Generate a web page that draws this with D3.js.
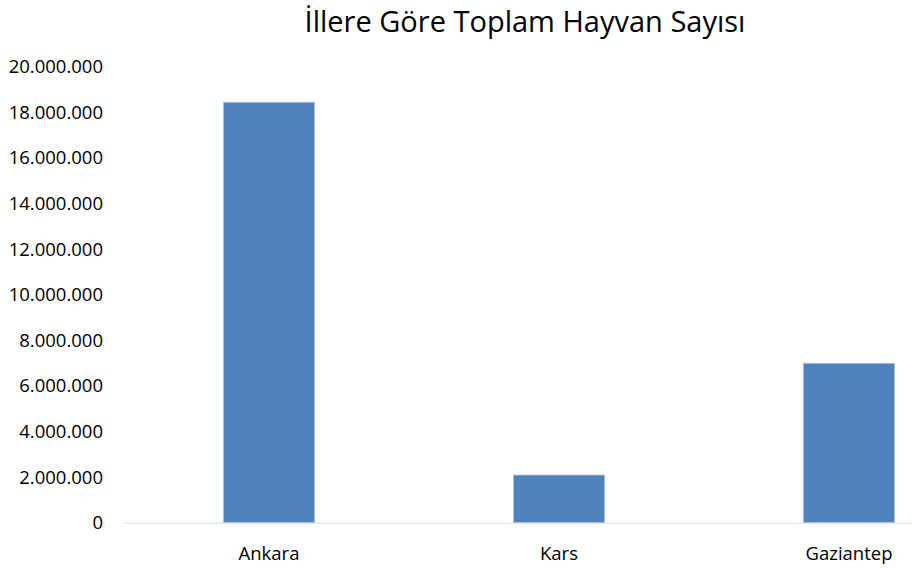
<!DOCTYPE html>
<html>
<head>
<meta charset="utf-8">
<script src="https://cdn.jsdelivr.net/npm/d3@7"></script>
<style>
  body { margin: 0; background: #fff; }
  text { font-family: "Open Sans", "Noto Sans", sans-serif; fill: #000; }
</style>
</head>
<body>
<svg width="912" height="568"></svg>
<script>
// chart data
var cities = ['Ankara', 'Kars', 'Gaziantep'];
var animals = [18440000, 2090000, 6990000];
var yTicks = [0, 2000000, 4000000, 6000000, 8000000, 10000000, 12000000, 14000000, 16000000, 18000000, 20000000];
var title = 'İllere Göre Toplam Hayvan Sayısı';

var svg = d3.select('svg');

var x = d3.scaleBand()
  .domain(cities)
  .range([124, 994])
  .paddingInner(0.686)
  .paddingOuter(0.343);

var y = d3.scaleLinear()
  .domain([0, 20000000])
  .range([522.7, 66.7]);

// dots as thousands separator
var fmt = function(v){
  return d3.format(',')(v).replace(/,/g, '.');
};

svg.append('text')
  .attr('x', 525)
  .attr('y', 32)
  .attr('text-anchor', 'middle')
  .style('font-size', '29px')
  .text(title);

svg.selectAll('.ylab').data(yTicks)
  .enter()
    .append('text')
    .attr('class', 'ylab')
    .attr('x', 103)
    .attr('y', function(d){ return y(d); })
    .attr('dy', '0.35em')
    .attr('text-anchor', 'end')
    .style('font-size', '18.5px')
    .text(fmt);

svg.selectAll('rect').data(animals)
  .enter()
    .append('rect')
    .attr('x', function(d, i){ return x(cities[i]); })
    .attr('y', function(d){ return y(d); })
    .attr('width', x.bandwidth())
    .attr('height', function(d){ return y(0) - y(d); })
    .attr('fill', '#4f81bd')
    .attr('stroke', '#a7bfde')
    .attr('stroke-width', 0.8);

svg.append('line')
  .attr('x1', 124)
  .attr('x2', 994)
  .attr('y1', y(0) + 0.5)
  .attr('y2', y(0) + 0.5)
  .attr('stroke', '#d9d9d9')
  .attr('stroke-width', 1);

svg.selectAll('.xlab').data(cities)
  .enter()
    .append('text')
    .attr('class', 'xlab')
    .attr('x', function(d){ return x(d) + x.bandwidth() / 2; })
    .attr('y', 560)
    .attr('text-anchor', 'middle')
    .style('font-size', '18.5px')
    .text(function(d){ return d; });
</script>
</body>
</html>
